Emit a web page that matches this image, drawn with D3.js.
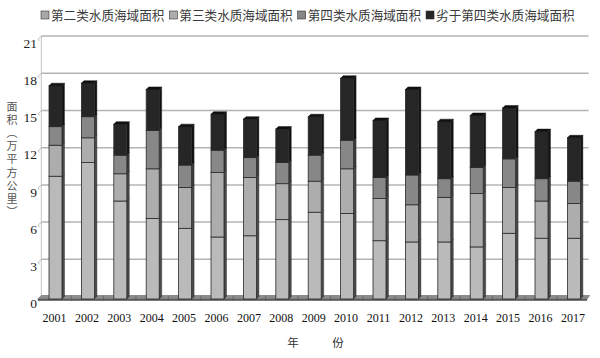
<!DOCTYPE html>
<html>
<head>
<meta charset="utf-8">
<script src="https://cdn.jsdelivr.net/npm/d3@7"></script>
<style>
  body { margin: 0; background: #fff; }
  svg { display: block; }
</style>
</head>
<body>
<div class="canvas"></div>
<script>
// data
const years = ['2001','2002','2003','2004','2005','2006','2007','2008','2009',
  '2010','2011','2012','2013','2014','2015','2016','2017'];
const class2 = [9.9, 11.0, 7.9, 6.5, 5.7, 5.0, 5.1, 6.4, 7.0, 6.9, 4.7, 4.6, 4.6, 4.2, 5.3, 4.9, 4.9];
const class3 = [2.5, 2.0, 2.2, 4.0, 3.3, 5.2, 4.7, 2.9, 2.5, 3.6, 3.4, 3.0, 3.6, 4.3, 3.7, 3.0, 2.8];
const class4 = [1.5, 1.7, 1.5, 3.1, 1.8, 1.8, 1.6, 1.7, 2.1, 2.3, 1.7, 2.4, 1.5, 2.1, 2.3, 1.8, 1.8];
const worse4 = [3.3, 2.7, 2.5, 3.3, 3.1, 2.9, 3.1, 2.7, 3.1, 5.0, 4.6, 6.9, 4.6, 4.2, 4.1, 3.8, 3.5];
const seriesNames = ['第二类水质海域面积', '第三类水质海域面积', '第四类水质海域面积', '劣于第四类水质海域面积'];
const yTicks = [0, 3, 6, 9, 12, 15, 18, 21];

const WIDTH = 600, HEIGHT = 358;
const DEPTH = 2.5;
const colors = ['#bababa', '#adadad', '#878787', '#262626'];
const sideColors = ['#4a4a4a', '#4a4a4a', '#3c3c3c', '#111111'];

const svg = d3.select('.canvas').append('svg')
  .attr('width', WIDTH)
  .attr('height', HEIGHT)
  .style('font-family', '"Liberation Serif", serif');

svg.append('rect').attr('width', WIDTH).attr('height', HEIGHT).attr('fill', '#fff');

//scales
const x = d3.scaleBand().domain(years).range([38.8, 589.6]).padding(0);
const y = d3.scaleLinear().domain([0, 21]).range([299, 38.6]);
const barW = 13;

const table = years.map((yr, i) => ({
  year: yr, class2: class2[i], class3: class3[i], class4: class4[i], worse4: worse4[i]
}));
const stack = d3.stack().keys(['class2', 'class3', 'class4', 'worse4']);
const layers = stack(table);

//back wall gridlines
const grid = svg.append('g').attr('class', 'grid');
grid.selectAll('line')
  .data(yTicks.filter(d => d > 0))
  .join('line')
  .attr('x1', 38.8 + DEPTH)
  .attr('x2', 589.6 - 1)
  .attr('y1', d => y(d) - DEPTH)
  .attr('y2', d => y(d) - DEPTH)
  .attr('stroke', '#b4b4b4')
  .attr('stroke-width', 1.5);

//left wall line and ticks
svg.append('line')
  .attr('x1', 38.8 + DEPTH).attr('x2', 38.8 + DEPTH)
  .attr('y1', y(0) - DEPTH).attr('y2', y(21) - DEPTH)
  .attr('stroke', '#c4c4c4').attr('stroke-width', 1);

svg.append('g').selectAll('path')
  .data(yTicks)
  .join('path')
  .attr('d', d => `M${38.8 + DEPTH},${y(d) - DEPTH} L${38.8 - 0.5},${y(d) + 0.5} L${38.8 + 0.5},${y(d) + 2.5}`)
  .attr('fill', 'none')
  .attr('stroke', '#aaa')
  .attr('stroke-width', 0.8);

svg.append('g').selectAll('text')
  .data(yTicks)
  .join('text')
  .attr('x', 37)
  .attr('y', d => y(d) + 4.5)
  .attr('dy', '0.35em')
  .attr('text-anchor', 'end')
  .attr('font-size', 13.5)
  .attr('fill', '#222')
  .text(d => d);

//floor
const x0 = 38.8, x1 = 589.6;
svg.append('path')
  .attr('d', `M${x0 - 1},${y(0)} L${x1 - DEPTH},${y(0)} L${x1},${y(0) - DEPTH - 1} L${x0 + DEPTH},${y(0) - DEPTH - 1} Z`)
  .attr('fill', '#8c8c8c')
  .attr('stroke', '#666')
  .attr('stroke-width', 0.6);
svg.append('rect')
  .attr('x', x0 - 1).attr('y', y(0))
  .attr('width', x1 - DEPTH - x0 + 1).attr('height', 1.8)
  .attr('fill', '#5a5a5a');
svg.append('g').selectAll('line')
  .data(years.slice(1))
  .join('line')
  .attr('x1', d => x(d)).attr('x2', d => x(d))
  .attr('y1', y(0) - DEPTH - 1).attr('y2', y(0) + 1.8)
  .attr('stroke', '#555').attr('stroke-width', 0.6);

//bars
const bars = svg.append('g').attr('class', 'bars');
layers.forEach((layer, li) => {
  const g = bars.append('g');
  layer.forEach((d, i) => {
    const cx = x(d.data.year) + x.bandwidth() / 2 + 0.5;
    const bx = cx - barW / 2;
    const yt = y(d[1]);
    const yb = y(d[0]);
    // side face
    g.append('path')
      .attr('d', `M${bx + barW},${yt} L${bx + barW + DEPTH},${yt - DEPTH} L${bx + barW + DEPTH},${yb - DEPTH} L${bx + barW},${yb} Z`)
      .attr('fill', sideColors[li])
      .attr('stroke', '#222')
      .attr('stroke-width', 0.4);
    // front face
    g.append('rect')
      .attr('x', bx)
      .attr('y', yt)
      .attr('width', barW)
      .attr('height', yb - yt)
      .attr('fill', colors[li])
      .attr('stroke', '#2a2a2a')
      .attr('stroke-width', 0.8);
    // top face on last layer
    if (li === layers.length - 1) {
      g.append('path')
        .attr('d', `M${bx},${yt} L${bx + DEPTH},${yt - DEPTH} L${bx + barW + DEPTH},${yt - DEPTH} L${bx + barW},${yt} Z`)
        .attr('fill', '#111')
        .attr('stroke', '#111')
        .attr('stroke-width', 0.5);
    }
  });
});

//x labels
svg.append('g').selectAll('text')
  .data(years)
  .join('text')
  .attr('x', d => x(d) + x.bandwidth() / 2 - 0.5)
  .attr('y', 322)
  .attr('text-anchor', 'middle')
  .attr('font-size', 12)
  .attr('fill', '#111')
  .text(d => d);

//axis titles
svg.append('text')
  .attr('x', 293).attr('y', 346.5)
  .attr('text-anchor', 'middle')
  .attr('font-family', '"Noto Sans CJK SC", sans-serif')
  .attr('font-size', 11.5)
  .attr('fill', '#333')
  .text('年');
svg.append('text')
  .attr('x', 338).attr('y', 346.5)
  .attr('text-anchor', 'middle')
  .attr('font-family', '"Noto Sans CJK SC", sans-serif')
  .attr('font-size', 11.5)
  .attr('fill', '#333')
  .text('份');

// vertical y title, one text element
svg.append('text')
  .attr('x', 12)
  .attr('y', 101)
  .style('writing-mode', 'vertical-rl')
  .style('letter-spacing', '2.2px')
  .attr('font-family', '"Noto Sans CJK SC", sans-serif')
  .attr('font-size', 11)
  .attr('fill', '#555')
  .text('面积（万平方公里）');

//legend
const legend = svg.append('g').attr('class', 'legend')
  .attr('font-family', '"Noto Sans CJK SC", sans-serif')
  .attr('font-size', 12.6);
let lx = 41;
seriesNames.forEach((name, i) => {
  legend.append('rect')
    .attr('x', lx).attr('y', 11)
    .attr('width', 8).attr('height', 8)
    .attr('fill', i === 0 ? '#a8a8a8' : colors[i])
    .attr('stroke', '#333').attr('stroke-width', 0.6);
  const t = legend.append('text')
    .attr('x', lx + 10).attr('y', 15)
    .attr('dy', '0.36em')
    .attr('fill', '#3a3a3a')
    .text(name);
  lx += 10 + t.node().getComputedTextLength() + 5;
});
</script>
</body>
</html>
